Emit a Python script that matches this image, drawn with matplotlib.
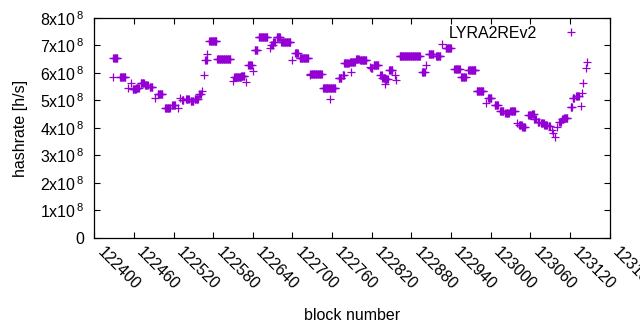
import numpy as np
import matplotlib
matplotlib.use("Agg")
import matplotlib.pyplot as plt
from matplotlib.ticker import FuncFormatter, MultipleLocator

plt.rcParams['font.family'] = ['Liberation Sans', 'DejaVu Sans']
plt.rcParams['mathtext.fontset'] = 'custom'
plt.rcParams['mathtext.rm'] = 'Liberation Sans'

# ------------------- DATA -------------------
# hashrate is constant over runs of blocks: first block, number of blocks, hashrate (x1e8 h/s)
run_start = [122428, 122429, 122439, 122451, 122456, 122458, 122463, 122470, 122477, 122484,
             122492, 122496, 122507, 122518, 122526, 122530, 122533, 122539, 122546, 122552,
             122559, 122563, 122566, 122568, 122571, 122574, 122586, 122610, 122612, 122622,
             122630, 122633, 122641, 122643, 122649, 122666, 122668, 122671, 122676, 122683,
             122700, 122704, 122711, 122726, 122727, 122746, 122757, 122770, 122776, 122788,
             122778, 122787, 122796, 122802, 122818, 122819, 122823, 122833, 122836, 122840,
             122840, 122846, 122855, 122856, 122862, 122896, 122902, 122906, 122917, 122927,
             122932, 122945, 122955, 122966, 122979, 122993, 122996, 123006, 123014, 123022,
             123030, 123040, 123043, 123048, 123057, 123063, 123066, 123071, 123076, 123081,
             123088, 123093, 123095, 123098, 123101, 123104, 123108, 123111, 123121, 123136,
             123124, 123129, 123138, 123140, 123144, 123146]
run_len = [1, 7, 9, 1, 1, 6, 5, 6, 5, 5,
           1, 8, 8, 5, 1, 1, 3, 5, 5, 6,
           3, 1, 1, 3, 1, 12, 21, 1, 11, 6,
           1, 6, 1, 5, 14, 1, 3, 3, 6, 15,
           1, 5, 14, 1, 18, 20, 1, 5, 3, 1,
           8, 8, 5, 11, 1, 3, 8, 3, 5, 5,
           1, 6, 1, 1, 32, 5, 1, 8, 8, 1,
           9, 9, 8, 12, 11, 1, 6, 6, 6, 6,
           8, 1, 5, 5, 5, 3, 3, 3, 5, 5,
           3, 1, 1, 1, 1, 3, 3, 6, 3, 1,
           3, 5, 1, 1, 1, 1]
run_rate = [5.84, 6.53, 5.84, 5.44, 5.62, 5.42, 5.47, 5.64, 5.56, 5.49,
            5.10, 5.22, 4.72, 4.84, 4.74, 5.10, 5.02, 5.05, 4.98, 5.05,
            5.24, 5.35, 5.93, 6.47, 6.68, 7.16, 6.50, 5.72, 5.84, 5.90,
            5.69, 6.29, 6.07, 6.82, 7.30, 6.90, 7.02, 7.14, 7.30, 7.12,
            6.47, 6.72, 6.53, 5.93, 5.95, 5.44, 5.05, 5.81, 5.93, 6.02,
            6.35, 6.39, 6.50, 6.47, 6.23, 6.17, 6.29, 5.93, 5.83, 5.78,
            5.59, 6.11, 5.93, 5.75, 6.62, 6.03, 6.29, 6.68, 6.60, 7.04,
            6.90, 6.13, 5.84, 6.11, 5.35, 4.90, 5.10, 4.84, 4.60, 4.53,
            4.62, 4.19, 4.11, 4.05, 4.47, 4.50, 4.32, 4.23, 4.17, 4.11,
            4.07, 3.93, 3.81, 3.68, 4.05, 4.23, 4.32, 4.35, 4.77, 4.80,
            5.08, 5.16, 5.26, 5.62, 6.17, 6.41]

x_ticks = list(range(122400, 123181, 60))

# one point per block inside every run
blocks = np.concatenate([np.arange(s, s + n) for s, n in zip(run_start, run_len)])
hashrate = np.concatenate([np.full(n, r * 1e8) for n, r in zip(run_len, run_rate)])

FS = 11.5


def sci_label(v, pos):
    if v == 0:
        return '0'
    return r'$\mathregular{%dx10^{\,8}}$' % round(v / 1e8)


# ------------------- PLOT -------------------
fig = plt.figure(figsize=(6.4, 3.3), dpi=100)
ax = fig.add_axes([0.1473, 0.2788, 0.8052, 0.6667])

ax.plot(blocks, hashrate, linestyle='none', marker='+', markersize=6.2,
        markeredgewidth=0.9, color='#9400d3', label='LYRA2REv2')

ax.set_xlim(122400, 123180)
ax.set_ylim(0, 8e8)
ax.set_xticks(x_ticks)
ax.set_xticklabels([str(t) for t in x_ticks], rotation=-45, ha='left', va='top')
ax.yaxis.set_major_locator(MultipleLocator(1e8))
ax.yaxis.set_major_formatter(FuncFormatter(sci_label))

ax.tick_params(direction='in', length=4, width=0.8, top=True, right=True,
               labelsize=FS, colors='black')
ax.tick_params(axis='y', pad=7)
ax.tick_params(axis='x', pad=5)
for s in ax.spines.values():
    s.set_linewidth(0.9)

ax.set_xlabel('block number', fontsize=FS, labelpad=11)
ax.set_ylabel('hashrate [h/s]', fontsize=FS, labelpad=9)

ax.legend(loc='upper right', bbox_to_anchor=(0.978, 1.03), frameon=False,
          markerfirst=False, fontsize=FS, handlelength=1.6, handletextpad=1.35)

fig.savefig('out.png', dpi=100)
